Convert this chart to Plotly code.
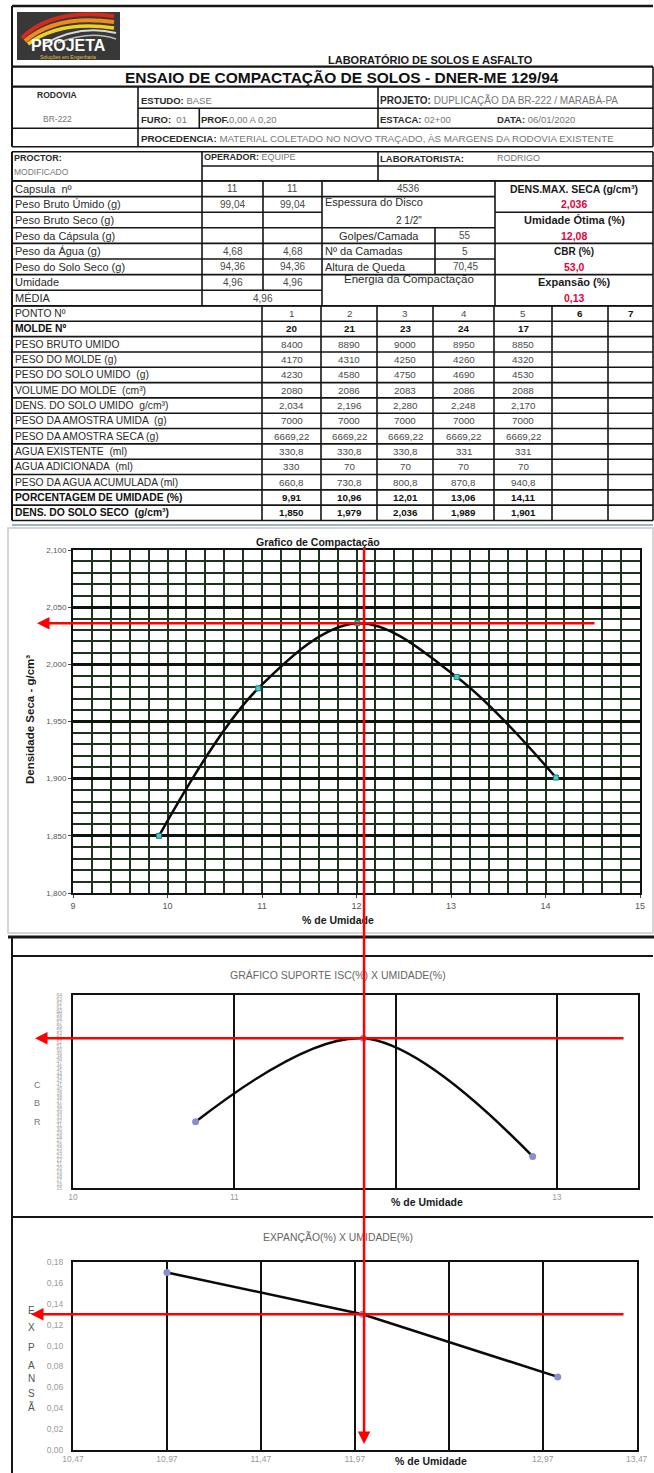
import plotly.graph_objects as go

W, H = 654, 1473

# ---------------- data ----------------
capsula_n = ['11', '11']
peso_bruto_umido_cap = [99.04, 99.04]
peso_agua_cap = [4.68, 4.68]
peso_solo_seco_cap = [94.36, 94.36]
umidade_cap = [4.96, 4.96]
umidade_media = 4.96

pontos = ['1', '2', '3', '4', '5', '6', '7']
molde = [20, 21, 23, 24, 17]
peso_bruto_umido = [8400, 8890, 9000, 8950, 8850]
peso_molde = [4170, 4310, 4250, 4260, 4320]
peso_solo_umido = [4230, 4580, 4750, 4690, 4530]
volume_molde = [2080, 2086, 2083, 2086, 2088]
dens_solo_umido = [2.034, 2.196, 2.280, 2.248, 2.170]
peso_amostra_umida = [7000, 7000, 7000, 7000, 7000]
peso_amostra_seca = [6669.22, 6669.22, 6669.22, 6669.22, 6669.22]
agua_existente = [330.8, 330.8, 330.8, 331, 331]
agua_adicionada = [330, 70, 70, 70, 70]
agua_acumulada = [660.8, 730.8, 800.8, 870.8, 940.8]
umidade = [9.91, 10.96, 12.01, 13.06, 14.11]
dens_seca = [1.850, 1.979, 2.036, 1.989, 1.901]

dens_max_seca = 2.036
umidade_otima = 12.08
cbr = 53.0
expansao = 0.13

cbr_umidade = [10.76, 11.80, 12.85]
cbr_valores = [31.8, 53.0, 23.0]
exp_umidade = [10.97, 12.01, 13.05]
exp_valores = [0.17, 0.13, 0.07]

cbr_x_ticks = [10, 11, 12, 13]
cbr_x_labels = ['10', '11', '', '13']          # "12" is hidden under the axis title
cbr_y_ticks = list(range(15, 65))
exp_x_ticks = [10.47, 10.97, 11.47, 11.97, 12.47, 12.97, 13.47]
exp_x_labels = ['10,47', '10,97', '11,47', '11,97', '', '12,97', '13,47']   # "12,47" hidden
exp_y_ticks = [0.00, 0.02, 0.04, 0.06, 0.08, 0.10, 0.12, 0.14, 0.16, 0.18]


def br(v, d=None):
    s = f"{v:g}" if d is None else f"{v:.{d}f}"
    return s.replace('.', ',')


NARROW = "Liberation Sans Narrow, Arial Narrow, Liberation Sans, Arial, sans-serif"
SANS = "Liberation Sans, Arial, sans-serif"
LC = '#151515'
TXT = '#2b2b2b'
VAL = '#4a4a4a'
RED = '#e8003a'

shapes, annots = [], []


def L(x0, y0, x1, y1, w=1.6, c=LC):
    shapes.append(dict(type='line', xref='x4', yref='y4', x0=x0, y0=y0, x1=x1, y1=y1,
                       line=dict(color=c, width=w), layer='above'))


def T(x, y, s, size=10, anchor='left', color=TXT, bold=False, family=NARROW, bg=None, angle=0):
    if bold:
        s = f'<b>{s}</b>'
    d = dict(xref='x4', yref='y4', x=x, y=y, text=s, showarrow=False, xanchor=anchor,
             yanchor='middle', font=dict(size=size, color=color, family=family), textangle=angle,
             borderpad=0)
    if bg:
        d['bgcolor'] = bg
    annots.append(d)


# ---------------- logo ----------------
shapes.append(dict(type='rect', xref='x4', yref='y4', x0=17, y0=12, x1=120, y1=60,
                   fillcolor='#383838', line=dict(width=0), layer='above'))
for path, col, w in [("M 22 38 Q 52 8 114 16", '#d42a1e', 4),
                     ("M 25 41 Q 56 14 114 22", '#f08a1c', 4),
                     ("M 28 44 Q 60 20 114 28", '#f2d21e', 3.5),
                     ("M 44 44 Q 80 24 116 33", '#d8d8d8', 2),
                     ("M 58 43 Q 90 30 116 39", '#bbbbbb', 1.5)]:
    shapes.append(dict(type='path', xref='x4', yref='y4', path=path,
                       line=dict(color=col, width=w), layer='above'))
T(68, 45, 'PROJETA', 16, 'center', '#ffffff', True, SANS)
T(68, 56.5, 'Soluções em Engenharia', 5, 'center', '#e6c040', False, SANS)

# ---------------- header ----------------
L(12, 6, 653, 6, 2.5)
L(12, 6, 12, 66.7, 2)
T(430, 60, 'LABORATÓRIO DE SOLOS E ASFALTO', 11, 'center', '#1a1a1a', True)
L(12, 66.7, 653, 66.7, 2.2)
L(12, 86.7, 653, 86.7, 2.2)
T(342, 77, 'ENSAIO DE COMPACTAÇÃO DE SOLOS - DNER-ME 129/94', 15.5, 'center', '#111', True)
L(138, 108.3, 653, 108.3)
L(12, 128.3, 653, 128.3)
L(12, 146.7, 653, 146.7)
L(12, 66.7, 12, 146.7, 2)
L(138, 86.7, 138, 146.7)
L(378, 86.7, 378, 128.3)
L(199.3, 108.3, 199.3, 128.3)
L(653, 66.7, 653, 146.7)


def lv(lbl, val):
    return f'<b>{lbl}</b> <span style="color:#777">{val}</span>'


T(57, 95, 'RODOVIA', 8.5, 'center', TXT, True)
T(57, 119, '<span style="color:#777">BR-222</span>', 8.5, 'center')
T(140, 100, lv('ESTUDO:', 'BASE'), 9.5)
T(140, 119, lv('FURO:', ' 01'), 9.5)
T(200, 119, lv('PROF.', '0,00 A 0,20').replace('</b> ', '</b>'), 9.5)
T(379, 100, lv('PROJETO:', 'DUPLICAÇÃO DA BR-222 / MARABÁ-PA'), 10)
T(379, 119, lv('ESTACA:', '02+00'), 9.5)
T(496, 119, lv('DATA:', '06/01/2020'), 9.5)
T(140, 138, lv('PROCEDENCIA:', 'MATERIAL COLETADO NO NOVO TRAÇADO, ÀS MARGENS DA RODOVIA EXISTENTE'), 9.8)

L(12, 151.7, 653, 151.7)
L(202, 166, 653, 166)
L(12, 180.8, 653, 180.8)
L(12, 151.7, 12, 180.8, 2)
L(202, 151.7, 202, 180.8)
L(378, 151.7, 378, 180.8)
L(653, 151.7, 653, 180.8)
T(13, 158, '<b>PROCTOR:</b>', 9)
T(13, 172, '<span style="color:#777">MODIFICADO</span>', 8.5)
T(203, 157, lv('OPERADOR:', 'EQUIPE'), 9)
T(379, 158, '<b>LABORATORISTA:</b>', 9.5)
T(496, 158, '<span style="color:#777">RODRIGO</span>', 9)

# ---------------- upper block ----------------
r = [181 + i * 15.6 for i in range(9)]
cA, cB, cC, cD, cE, cF, cG = 12, 202, 263, 322, 435, 495, 653
for i in range(1, 8):
    L(cA, r[i], cD, r[i])
L(cA, r[0], cG, r[0])
L(cA, r[8], cG, r[8])
for i in [1, 3, 4, 5, 6]:
    L(cD, r[i], cF, r[i])
for i in [2, 4, 6]:
    L(cF, r[i], cG, r[i])
L(cA, r[0], cA, r[8], 2)
L(cB, r[0], cB, r[8])
L(cC, r[0], cC, r[7])
L(cD, r[0], cD, r[8])
L(cE, r[3], cE, r[6])
L(cF, r[0], cF, r[8])
L(cG, r[0], cG, r[8])


def mid(i):
    return (r[i] + r[i + 1]) / 2


left_labels = ['Capsula  nº', 'Peso Bruto Úmido (g)', 'Peso Bruto Seco (g)', 'Peso da Cápsula (g)',
               'Peso da Água (g)', 'Peso do Solo Seco (g)', 'Umidade', 'MÉDIA']
for i, s in enumerate(left_labels):
    T(14, mid(i), s, 11)
cols_bc = [(cB + cC) / 2, (cC + cD) / 2]
rows_vals = {0: capsula_n, 1: [br(v, 2) for v in peso_bruto_umido_cap],
             4: [br(v, 2) for v in peso_agua_cap], 5: [br(v, 2) for v in peso_solo_seco_cap],
             6: [br(v, 2) for v in umidade_cap]}
for i, vals in rows_vals.items():
    for xc, v in zip(cols_bc, vals):
        T(xc, mid(i), v, 10, 'center', VAL)
T(cC, mid(7), br(umidade_media, 2), 10, 'center', VAL)

T((cD + cF) / 2, mid(0), '4536', 10, 'center', VAL)
T(cD + 2, mid(1) - 2, 'Espessura do Disco', 11)
T((cD + cF) / 2, mid(2), '2 1/2"', 10, 'center')
T((cD + cE) / 2, mid(3), 'Golpes/Camada', 11, 'center')
T((cE + cF) / 2, mid(3), '55', 10, 'center', VAL)
T(cD + 2, mid(4), 'Nº da Camadas', 11)
T((cE + cF) / 2, mid(4), '5', 10, 'center', VAL)
T(cD + 2, mid(5), 'Altura de Queda', 11)
T((cE + cF) / 2, mid(5), br(70.45, 2), 10, 'center', VAL)
T((cD + cF) / 2, mid(6) - 3, 'Energia da Compactação', 11.5, 'center')

xf = (cF + cG) / 2
T(xf, mid(0), 'DENS.MAX. SECA (g/cm³)', 10.5, 'center', '#1a1a1a', True)
T(xf, mid(1), br(dens_max_seca, 3), 10.5, 'center', RED, True)
T(xf, mid(2), 'Umidade Ótima (%)', 11, 'center', '#1a1a1a', True)
T(xf, mid(3), br(umidade_otima, 2), 10.5, 'center', RED, True)
T(xf, mid(4), 'CBR (%)', 10, 'center', '#1a1a1a', True)
T(xf, mid(5), br(cbr, 1), 10.5, 'center', RED, True)
T(xf, mid(6), 'Expansão (%)', 11, 'center', '#1a1a1a', True)
T(xf, mid(7), br(expansao, 2), 10.5, 'center', RED, True)

# ---------------- main table ----------------
m = [306 + i * 15.32 for i in range(15)]
mc = [12, 262, 321, 377, 433, 494, 552, 608, 653]
for y in m:
    L(12, y, 653, y)
for x in mc:
    L(x, m[0], x, m[14], 2 if x == 12 else 1.6)
L(12, m[14] + 4.5, 653, m[14] + 4.5, 2, '#9fb3c8')

rows = [
    ('PONTO Nº', False, pontos),
    ('MOLDE Nº', True, [str(v) for v in molde]),
    ('PESO BRUTO UMIDO', False, [br(v) for v in peso_bruto_umido]),
    ('PESO DO MOLDE (g)', False, [br(v) for v in peso_molde]),
    ('PESO DO SOLO UMIDO  (g)', False, [br(v) for v in peso_solo_umido]),
    ('VOLUME DO MOLDE  (cm³)', False, [br(v) for v in volume_molde]),
    ('DENS. DO SOLO UMIDO  g/cm³)', False, [br(v, 3) for v in dens_solo_umido]),
    ('PESO DA AMOSTRA UMIDA  (g)', False, [br(v) for v in peso_amostra_umida]),
    ('PESO DA AMOSTRA SECA (g)', False, [br(v, 2) for v in peso_amostra_seca]),
    ('AGUA EXISTENTE  (ml)', False, [br(v) for v in agua_existente]),
    ('AGUA ADICIONADA  (ml)', False, [br(v) for v in agua_adicionada]),
    ('PESO DA AGUA ACUMULADA (ml)', False, [br(v) for v in agua_acumulada]),
    ('PORCENTAGEM DE UMIDADE (%)', True, [br(v, 2) for v in umidade]),
    ('DENS. DO SOLO SECO  (g/cm³)', True, [br(v, 3) for v in dens_seca]),
]
for i, (lbl, b, vals) in enumerate(rows):
    y = (m[i] + m[i + 1]) / 2
    T(14, y, lbl, 10.3, 'left', '#111' if b else TXT, b)
    for j, v in enumerate(vals):
        xc = (mc[j + 1] + mc[j + 2]) / 2
        bb = b or (i == 0 and j >= 5)
        T(xc, y, v, 9.8, 'center', '#111' if bb else VAL, bb)

# ---------------- chart frames ----------------
shapes.append(dict(type='rect', xref='x4', yref='y4', x0=8, y0=528, x1=653, y1=933,
                   line=dict(color='#c8c8c8', width=1.5), layer='above'))
L(8, 937, 654, 937, 3)
L(12, 956, 653, 956, 2)
L(12, 937, 12, 1473, 2)
L(12, 1217, 653, 1217, 2)

# chart texts
T(318, 542, 'Grafico de Compactação', 10.5, 'center', '#1a1a1a', True, SANS)
T(30, 720, 'Densidade Seca - g/cm³', 11.5, 'center', '#1a1a1a', True, SANS, angle=-90)
T(338, 920, '% de Umidade', 10.5, 'center', '#1a1a1a', True, SANS)

T(338, 975, 'GRÁFICO SUPORTE ISC(%) X UMIDADE(%)', 10.5, 'center', '#666', False, NARROW)
for ch, yy in zip('CBR', [1085, 1103, 1122]):
    T(37, yy, ch, 9, 'center', '#777', False, SANS)
T(427, 1202, '% de Umidade', 10.5, 'center', '#1a1a1a', True, NARROW)

T(338, 1237, 'EXPANÇÃO(%) X UMIDADE(%)', 10.4, 'center', '#666', False, NARROW)
for ch, yy in zip('EXPANSÃ', [1310, 1327, 1347, 1365, 1378, 1393, 1407]):
    T(31, yy, ch, 10, 'center', '#555', False, SANS)
T(431, 1461, '% de Umidade', 10.5, 'center', '#1a1a1a', True, NARROW)

# ---------------- red guide arrows ----------------
arrow = dict(showarrow=True, text='', arrowhead=2, arrowsize=1, arrowwidth=2.5,
             arrowcolor='#ff0000', axref='pixel', ayref='pixel')
annots.append(dict(arrow, x=37, xref='x4', y=dens_max_seca, yref='y', ax=596 - 37, ay=0))
annots.append(dict(arrow, x=35, xref='x4', y=cbr, yref='y2', ax=625 - 35, ay=0))
annots.append(dict(arrow, x=31, xref='x4', y=expansao, yref='y3', ax=625 - 31, ay=0))
annots.append(dict(arrow, x=umidade_otima, xref='x', y=1444, yref='y4', ax=0, ay=-(1444 - 546)))

# ---------------- traces ----------------
fig = go.Figure()
fig.add_trace(go.Scatter(x=umidade, y=dens_seca, mode='lines+markers', xaxis='x', yaxis='y',
                         line=dict(color='#0a0a0a', width=2.5, shape='spline', smoothing=1.0),
                         marker=dict(symbol='square', size=5, color='#40d0d0',
                                     line=dict(color='#1a7a7a', width=1)),
                         showlegend=False, hoverinfo='skip'))
fig.add_trace(go.Scatter(x=cbr_umidade, y=cbr_valores, mode='lines+markers', xaxis='x2', yaxis='y2',
                         line=dict(color='#0a0a0a', width=2.5, shape='spline', smoothing=1.0),
                         marker=dict(symbol='circle', size=7, color='#8a8ed0'),
                         showlegend=False, hoverinfo='skip'))
fig.add_trace(go.Scatter(x=exp_umidade, y=exp_valores, mode='lines+markers', xaxis='x3', yaxis='y3',
                         line=dict(color='#0a0a0a', width=2.5),
                         marker=dict(symbol='circle', size=7, color='#8a8ed0'),
                         showlegend=False, hoverinfo='skip'))
fig.add_trace(go.Scatter(x=[None], y=[None], xaxis='x4', yaxis='y4', showlegend=False, hoverinfo='skip'))

GRID = '#1d331d'
tickf = dict(size=9, color='#555', family=SANS)
light = dict(size=8.5, color='#9a9a9a', family=NARROW)


def dom_x(a, b):
    return [a / W, b / W]


def dom_y(top, bot):
    return [1 - bot / H, 1 - top / H]


fig.update_layout(
    width=W, height=H, autosize=False,
    margin=dict(l=0, r=0, t=0, b=0, pad=0),
    paper_bgcolor='white', plot_bgcolor='rgba(0,0,0,0)',
    separators=',.',
    showlegend=False,
    xaxis=dict(domain=dom_x(73, 640), anchor='y', range=[9, 15], tick0=9, dtick=1,
               showgrid=True, gridcolor=GRID, gridwidth=2,
               minor=dict(tick0=9, dtick=0.2, showgrid=True, gridcolor=GRID, gridwidth=2),
               showline=True, linecolor='#111', linewidth=2, mirror=True, automargin=False,
               ticks='outside', ticklen=3, tickcolor='#444', tickfont=tickf, zeroline=False),
    yaxis=dict(domain=dom_y(550, 893), anchor='x', range=[1.8, 2.1], tick0=1.8, dtick=0.05,
               tickformat='.3f', showgrid=True, gridcolor='#0c150c', gridwidth=3,
               minor=dict(tick0=1.8, dtick=0.01, showgrid=True, gridcolor=GRID, gridwidth=2),
               showline=True, linecolor='#111', linewidth=2, mirror=True, automargin=False,
               ticks='outside', ticklen=3, tickcolor='#444',
               tickfont=dict(size=8, color='#555', family=SANS), zeroline=False),
    xaxis2=dict(domain=dom_x(73, 637.5), anchor='y2', range=[10, 13.5], tickvals=cbr_x_ticks,
                ticktext=cbr_x_labels, showgrid=True, gridcolor='#111', gridwidth=1.5,
                showline=True, linecolor='#111', linewidth=2, mirror=True, ticks='', automargin=False,
                tickfont=light, zeroline=False),
    yaxis2=dict(domain=dom_y(995, 1188), anchor='x2', range=[15, 64], tickvals=cbr_y_ticks,
                ticktext=[str(v) for v in cbr_y_ticks], showgrid=False, automargin=False,
                showline=True, linecolor='#111', linewidth=2, mirror=True, ticks='',
                ticklabelstandoff=8, tickfont=dict(size=5, color='#a0a0a0', family=NARROW),
                zeroline=False),
    xaxis3=dict(domain=dom_x(73, 636.7), anchor='y3', range=[10.47, 13.47], tickvals=exp_x_ticks,
                ticktext=exp_x_labels, showgrid=True, gridcolor='#111', gridwidth=1.5,
                showline=True, linecolor='#111', linewidth=2, mirror=True, ticks='', automargin=False,
                tickfont=light, zeroline=False),
    yaxis3=dict(domain=dom_y(1262, 1450), anchor='x3', range=[0, 0.18], tickvals=exp_y_ticks,
                ticktext=[br(v, 2) for v in exp_y_ticks], showgrid=False, automargin=False,
                showline=True, linecolor='#111', linewidth=2, mirror=True, ticks='',
                ticklabelstandoff=6, tickfont=light, zeroline=False),
    xaxis4=dict(domain=[0, 1], anchor='y4', range=[0, W], visible=False, fixedrange=True, automargin=False),
    yaxis4=dict(domain=[0, 1], anchor='x4', range=[H, 0], visible=False, fixedrange=True, automargin=False),
    shapes=shapes,
    annotations=annots,
)

fig.write_html("out.html", config={'displayModeBar': False},
               post_script="document.body.style.margin='0px'; document.body.style.overflow='hidden';")
